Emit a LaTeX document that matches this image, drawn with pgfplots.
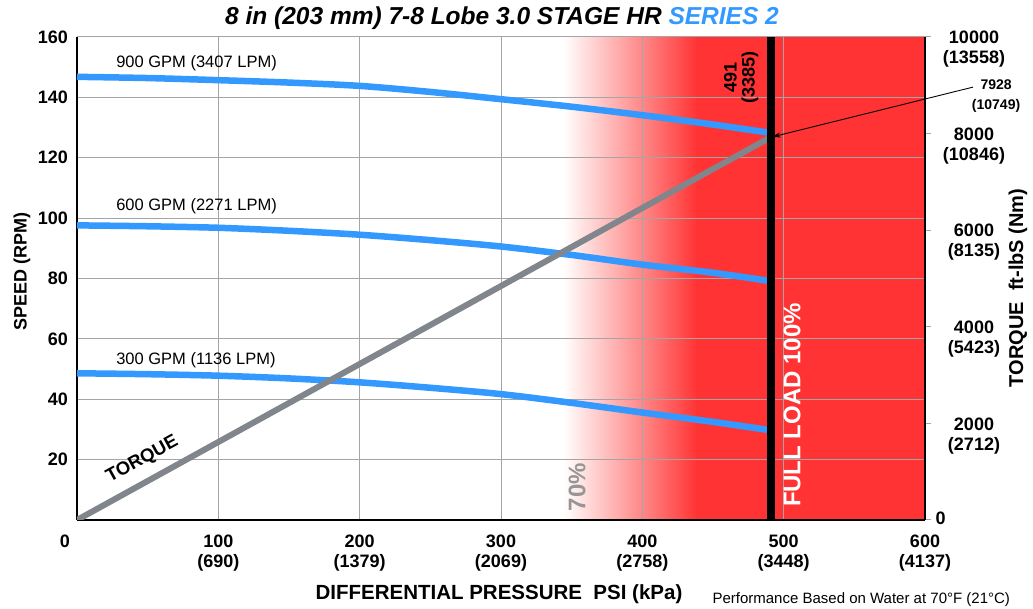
\documentclass[border=0pt]{standalone}
\usepackage{pgfplots}
\pgfplotsset{compat=1.18}
\usepackage{fontspec}
\setmainfont{Liberation Sans}
\usetikzlibrary{arrows.meta}

\definecolor{flowblue}{RGB}{51,153,255}
\definecolor{loadred}{RGB}{255,51,51}
\definecolor{torquegray}{RGB}{128,134,140}
\definecolor{gridgray}{RGB}{165,165,165}
\definecolor{pctgray}{RGB}{150,150,150}

\newcommand{\tickfont}{\bfseries\fontsize{18}{20}\selectfont}

% all four axes share the same box: 848 x 483, corner at the origin
\pgfplotsset{
  motor/.style={
    scale only axis, width=848pt, height=483pt,
    at={(0,0)}, anchor=south west,
    xmin=0, xmax=600,
  },
}

\begin{document}
\begin{tikzpicture}

% load zone behind everything
\begin{axis}[motor, ymin=0, ymax=160, hide axis]
  \addplot[draw=none, left color=white, right color=loadred]
    coordinates {(344,0) (439,0) (439,160) (344,160)} -- cycle;
  \addplot[draw=none, fill=loadred]
    coordinates {(439,0) (600,0) (600,160) (439,160)} -- cycle;
\end{axis}

% speed axis, grid and the three flow curves
\begin{axis}[motor, ymin=0, ymax=160,
  axis x line*=bottom, axis y line*=left,
  axis line style={black, line width=1.4pt, -},
  grid=major, grid style={gridgray, line width=1pt},
  xtick={0,100,...,600},
  xticklabels={,{100\\(690)},{200\\(1379)},{300\\(2069)},{400\\(2758)},{500\\(3448)},{600\\(4137)}},
  ytick={0,20,...,160},
  yticklabels={,20,40,60,80,100,120,140,160},
  major tick length=0pt,
  tick label style={font=\tickfont, inner sep=0pt},
  xticklabel style={align=center, anchor=north, yshift=-15pt},
  yticklabel style={anchor=east, xshift=-9pt},
  xlabel={DIFFERENTIAL PRESSURE\ \ PSI (kPa)},
  xlabel style={at={(rel axis cs:0.4976,-0.1532)}, anchor=center,
    font=\bfseries\fontsize{20.5}{24}\selectfont},
  ylabel={SPEED (RPM)},
  ylabel style={at={(rel axis cs:-0.0649,0.5135)}, anchor=center,
    font=\bfseries\fontsize{18}{22}\selectfont},
]
  % 900 GPM
  \addplot[flowblue, line width=6.5pt, smooth] coordinates {
    (0,146.8) (50,146.4) (100,145.7) (150,144.9) (200,143.8) (250,141.8)
    (300,139.4) (350,136.9) (400,134.1) (450,131.0) (491,128.2)};
  % 600 GPM
  \addplot[flowblue, line width=6.5pt, smooth] coordinates {
    (0,97.6) (50,97.3) (100,96.8) (150,95.8) (200,94.5) (250,92.7)
    (300,90.6) (350,87.8) (400,84.6) (450,81.9) (491,79.1)};
  % 300 GPM
  \addplot[flowblue, line width=6.5pt, smooth] coordinates {
    (0,48.6) (50,48.3) (100,47.8) (150,46.9) (200,45.6) (250,43.8)
    (300,41.7) (350,38.8) (400,35.6) (450,32.5) (491,29.7)};
\end{axis}

% torque axis on the right
\begin{axis}[motor, ymin=0, ymax=10000,
  axis x line=none, axis y line*=right,
  axis line style={black, line width=1.4pt, -},
  scaled y ticks=false,
  ytick={0,2000,...,10000},
  yticklabels={,{2000\\(2712)},{4000\\(5423)},{6000\\(8135)},{8000\\(10846)},{10000\\(13558)}},
  tick align=outside, major tick length=6pt,
  ytick style={gridgray, line width=1pt},
  yticklabel style={font=\tickfont, inner sep=0pt, align=center,
    anchor=north, xshift=43pt, yshift=6pt},
  ylabel={TORQUE\ \ ft-lbS (Nm)},
  ylabel style={at={(rel axis cs:1.1097,0.4803)}, anchor=center,
    font=\bfseries\fontsize{20}{24}\selectfont},
]
  \addplot[torquegray, line width=6pt] coordinates {(0,0) (491,7928)};
\end{axis}

% full-load bar and the notes
\begin{axis}[motor, ymin=0, ymax=160, hide axis, clip=false]
  \addplot[black, line width=8.5pt] coordinates {(491,0) (491,160)};

  \node[anchor=west, font=\fontsize{16.5}{19}\selectfont] at (axis cs:25.3,151.4) {900 GPM (3407 LPM)};
  \node[anchor=west, font=\fontsize{16.5}{19}\selectfont] at (axis cs:25.3,103.8) {600 GPM (2271 LPM)};
  \node[anchor=west, font=\fontsize{16.5}{19}\selectfont] at (axis cs:25.3,53.0) {300 GPM (1136 LPM)};

  \node[rotate=28.8, inner sep=0pt, font=\bfseries\fontsize{18.5}{20}\selectfont] at (axis cs:46.3,20.0) {TORQUE};
  \node[rotate=90, text=pctgray, font=\bfseries\fontsize{24}{28}\selectfont] at (axis cs:353.8,10.9) {70\%};
  \node[rotate=90, text=white, font=\bfseries\fontsize{24}{28}\selectfont] at (axis cs:505.9,38.1) {FULL LOAD 100\%};
  \node[rotate=90, align=center, font=\bfseries\fontsize{18}{18}\selectfont] at (axis cs:470.0,146.7) {491\\(3385)};

  \node[align=center, font=\bfseries\fontsize{14}{20}\selectfont] at (axis cs:650.3,140.4) {7928\\(10749)};
  \draw[-{Stealth[length=9pt,width=5pt]}, line width=0.9pt] (axis cs:634,143.4) -- (axis cs:491.5,126.85);

  \node[font=\tickfont] at (axis cs:-8.5,-7.0) {0};
  \node[anchor=west, inner sep=0pt, font=\tickfont] at (axis cs:607.3,0.6) {0};

  \node[font=\bfseries\itshape\fontsize{24.5}{28}\selectfont] at (rel axis cs:0.5012,1.0383)
    {8 in (203 mm) 7-8 Lobe 3.0 STAGE HR \textcolor{flowblue}{SERIES 2}};
  \node[anchor=west, font=\fontsize{15}{18}\selectfont] at (rel axis cs:0.7453,-0.1656)
    {Performance Based on Water at 70°F (21°C)};
\end{axis}

\pgfresetboundingbox
\path (-77pt,-89pt) rectangle (956pt,520pt);
\end{tikzpicture}
\end{document}
